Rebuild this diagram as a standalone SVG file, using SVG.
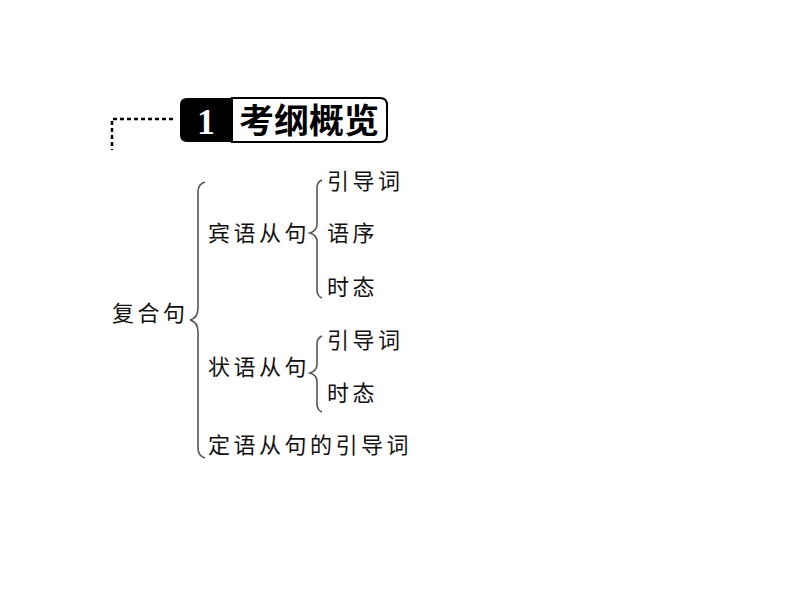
<svg xmlns="http://www.w3.org/2000/svg" width="794" height="596" viewBox="0 0 794 596">
<style>
.t{font-family:"Noto Sans CJK SC","Noto Sans CJK JP",sans-serif;font-size:22px;fill:#111;letter-spacing:3.5px}
.br{fill:none;stroke:#555;stroke-width:1.6}
.dot{fill:none;stroke:#000;stroke-width:2.5;stroke-dasharray:4 3}
</style>
<rect width="794" height="596" fill="#fff"/>
<g id="header">
<path class="dot" d="M173 119 H112 V150"/>
<path d="M232 98 H380 Q387 98 387 105 V135 Q387 142 380 142 H232 Z" fill="#fff" stroke="#000" stroke-width="2"/>
<path d="M187 98 H232 V142 H187 Q180 142 180 135 V105 Q180 98 187 98 Z" fill="#000"/>
<text x="206" y="134" text-anchor="middle" font-family="Liberation Serif, serif" font-weight="bold" font-size="36" fill="#fff">1</text>
<text x="309" y="133" text-anchor="middle" font-family="Noto Sans CJK SC, sans-serif" font-weight="bold" font-size="34" fill="#000" textLength="140" lengthAdjust="spacingAndGlyphs">考纲概览</text>
</g>
<g id="connectors">
<path class="br" d="M205 182 Q198 184 198 192 V308 Q198 318 190 320 Q198 322 198 332 V448 Q198 456 205 458"/>
<path class="br" d="M322 180 Q317 182 317 188 V224 Q317 231 310 233 Q317 235 317 242 V290 Q317 296 322 298"/>
<path class="br" d="M322 336 Q317 338 317 344 V364 Q317 371 310 373 Q317 375 317 382 V404 Q317 410 322 412"/>
</g>
<g id="n-root"><text class="t" x="112" y="321">复合句</text></g>
<g id="n-obj"><text class="t" x="208" y="241">宾语从句</text></g>
<g id="n-obj1"><text class="t" x="327" y="189">引导词</text></g>
<g id="n-obj2"><text class="t" x="327" y="241">语序</text></g>
<g id="n-obj3"><text class="t" x="327" y="295">时态</text></g>
<g id="n-adv"><text class="t" x="208" y="375">状语从句</text></g>
<g id="n-adv1"><text class="t" x="327" y="348">引导词</text></g>
<g id="n-adv2"><text class="t" x="327" y="401">时态</text></g>
<g id="n-attr"><text class="t" x="208" y="453">定语从句的引导词</text></g>
</svg>
